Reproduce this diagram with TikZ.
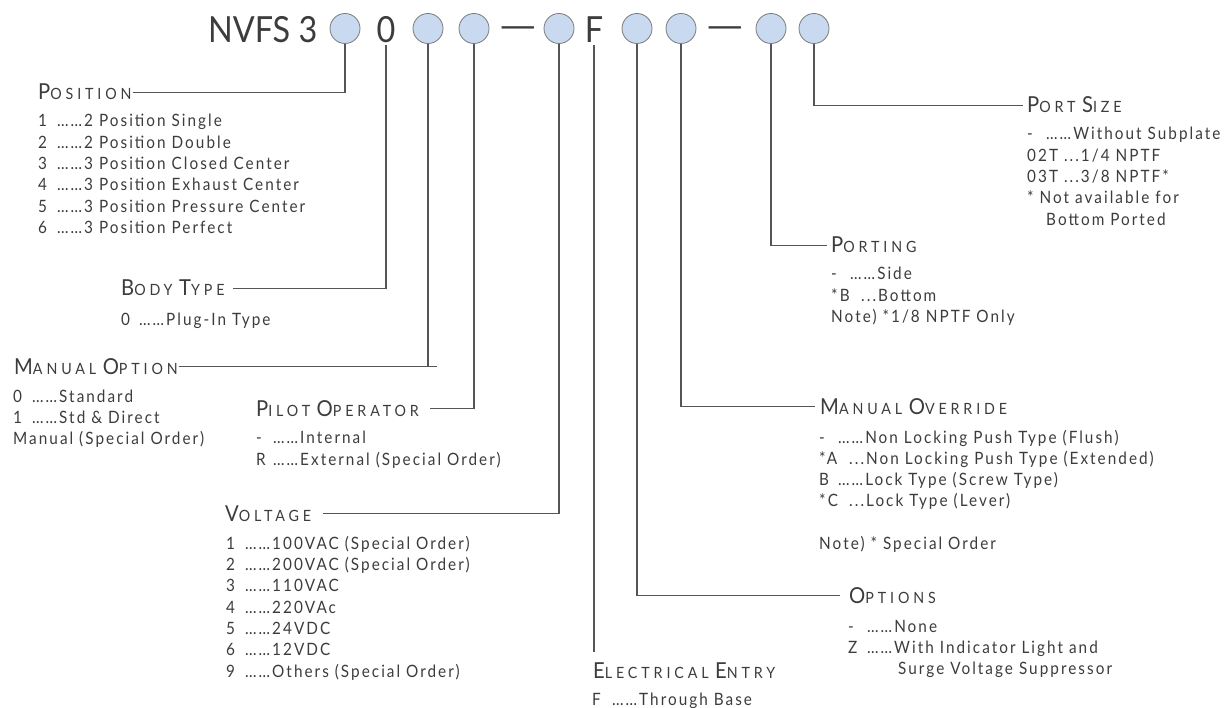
\documentclass[tikz,border=0pt]{standalone}
\usepackage{fontspec}
\usepackage{graphicx}
\setmainfont{Lato}
\newfontfamily\bodyf[FakeStretch=0.9,LetterSpace=12]{Lato}
\newfontfamily\headf[FakeStretch=0.92,LetterSpace=25]{Lato}
\newfontfamily\titlef[FakeStretch=0.9]{Lato}
\definecolor{txt}{HTML}{3C3C3C}
\definecolor{ln}{HTML}{555555}
\definecolor{bubfill}{HTML}{C9D9F0}
\definecolor{bubline}{HTML}{7A7A7A}
\newcommand\hcap[2]{{\fontsize{22}{22}\selectfont #1}{\fontsize{15.5}{15.5}\selectfont #2}}
\newcommand\cw[2]{\makebox[#1pt][l]{#2}}
\tikzset{
  bub/.style={circle, draw=bubline, fill=bubfill, line width=0.8pt, minimum size=30pt, inner sep=0pt},
  titletxt/.style={font=\titlef\fontsize{36}{36}\selectfont, text=txt, inner sep=0pt},
  head/.style={font=\headf, text=txt, inner sep=0pt, anchor=base west},
  item/.style={font=\bodyf\fontsize{17}{21.3}\selectfont, text=txt, inner sep=0pt, anchor=base west, align=left},
  conn/.style={draw=ln, line width=1.2pt}
}
\begin{document}
\begin{tikzpicture}[x=1pt,y=-1pt]
\useasboundingbox (0,0) rectangle (1225,708);
% title row
\node[titletxt, anchor=base west] (nvfs) at (208,43) {NVFS 3};
\node[bub] (c1) at (345,28.5) {};
\node[titletxt, anchor=base] (zero) at (386,43) {0};
\node[bub] (c2) at (428,28.5) {};
\node[bub] (c3) at (474,28.5) {};
\node[titletxt, anchor=base] (dash1) at (518,39) {\scalebox{1.5}[1]{—}};
\node[bub] (c4) at (559,28.5) {};
\node[titletxt, anchor=base] (eff) at (594,43) {F};
\node[bub] (c5) at (637,28.5) {};
\node[bub] (c6) at (681,28.5) {};
\node[titletxt, anchor=base] (dash2) at (725,39) {\scalebox{1.5}[1]{—}};
\node[bub] (c7) at (771,28.5) {};
\node[bub] (c8) at (814,28.5) {};
% headings
\node[head] (posh) at (38,100) {\hcap{P}{OSITION}};
\node[head] (bodyh) at (121,296) {\hcap{B}{ODY}\, \hcap{T}{YPE}};
\node[head] (moh) at (14,374) {\hcap{M}{ANUAL}\, \hcap{O}{PTION}};
\node[head] (piloth) at (256,416) {\hcap{P}{ILOT}\, \hcap{O}{PERATOR}};
\node[head] (volth) at (225,521) {\hcap{V}{OLTAGE}};
\node[head] (elech) at (593,678) {\hcap{E}{LECTRICAL}\, \hcap{E}{NTRY}};
\node[head] (opth) at (849,603) {\hcap{O}{PTIONS}};
\node[head] (ovrh) at (820,414) {\hcap{M}{ANUAL}\, \hcap{O}{VERRIDE}};
\node[head] (porth) at (831,253) {\hcap{P}{ORTING}};
\node[head] (sizeh) at (1027,113) {\hcap{P}{ORT}\, \hcap{S}{IZE}};
% lists (anchor = baseline of last line)
\node[item] (posl) at (38,233.5) {\cw{19}{1}……2 Position Single\\ \cw{19}{2}……2 Position Double\\ \cw{19}{3}……3 Position Closed Center\\ \cw{19}{4}……3 Position Exhaust Center\\ \cw{19}{5}……3 Position Pressure Center\\ \cw{19}{6}……3 Position Perfect};
\node[item] (bodyl) at (121,325) {\cw{18}{0}……Plug-In Type};
\node[item] (mol) at (13,444.6) {\cw{19}{0}……Standard\\ \cw{19}{1}……Std \& Direct\\ Manual (Special Order)};
\node[item] (pilotl) at (256,465) {\cw{17}{-}……Internal\\ \cw{17}{R}……External (Special Order)};
\node[item] (voltl) at (226,677) {\cw{19}{1}……100VAC (Special Order)\\ \cw{19}{2}……200VAC (Special Order)\\ \cw{19}{3}……110VAC\\ \cw{19}{4}……220VAc\\ \cw{19}{5}……24VDC\\ \cw{19}{6}……12VDC\\ \cw{19}{9}……Others (Special Order)};
\node[item] (elecl) at (592,705) {\cw{20}{F}……Through Base};
\node[item] (optl) at (848,674.6) {\cw{19}{-}……None\\ \cw{19}{Z}……With Indicator Light and\\ \hspace{50pt}Surge Voltage Suppressor};
\node[item] (ovrl) at (819,549.5) {\cw{19}{-}……Non Locking Push Type (Flush)\\ \cw{30}{*A}...Non Locking Push Type (Extended)\\ \cw{19}{B}……Lock Type (Screw Type)\\ \cw{30}{*C}...Lock Type (Lever)\\[21.3pt] Note) * Special Order};
\node[item] (portl) at (831,322.6) {\cw{19}{-}……Side\\ \cw{30}{*B}...Bottom\\ Note) *1/8 NPTF Only};
\node[item] (sizel) at (1027,225.2) {\cw{19}{-}……Without Subplate\\ 02T ...1/4 NPTF\\ 03T ...3/8 NPTF*\\ * Not available for\\ \hspace{19pt}Bottom Ported};
% connectors
\draw[conn] (c1.south) |- ([xshift=1pt]posh.east);
\draw[conn] ([yshift=-2pt]zero.south) |- ([xshift=8pt]bodyh.east);
\draw[conn] (c2.south) |- ([xshift=1pt]moh.east);
\draw[conn] ([xshift=1pt]moh.east) -- ([xshift=9pt]c2.south |- moh.east);
\draw[conn] (c3.south) |- ([xshift=11pt]piloth.east);
\draw[conn] (c4.south) |- ([xshift=12pt]volth.east);
\draw[conn] ([yshift=-2pt]eff.south) -- ([yshift=10pt]elech.north -| eff.south);
\draw[conn] (c5.south) |- ([xshift=-9pt]opth.west);
\draw[conn] (c6.south) |- ([xshift=-5pt]ovrh.west);
\draw[conn] (c7.south) |- ([xshift=-4pt]porth.west);
\draw[conn] (c8.south) |- ([xshift=-4pt]sizeh.west);
\end{tikzpicture}
\end{document}
